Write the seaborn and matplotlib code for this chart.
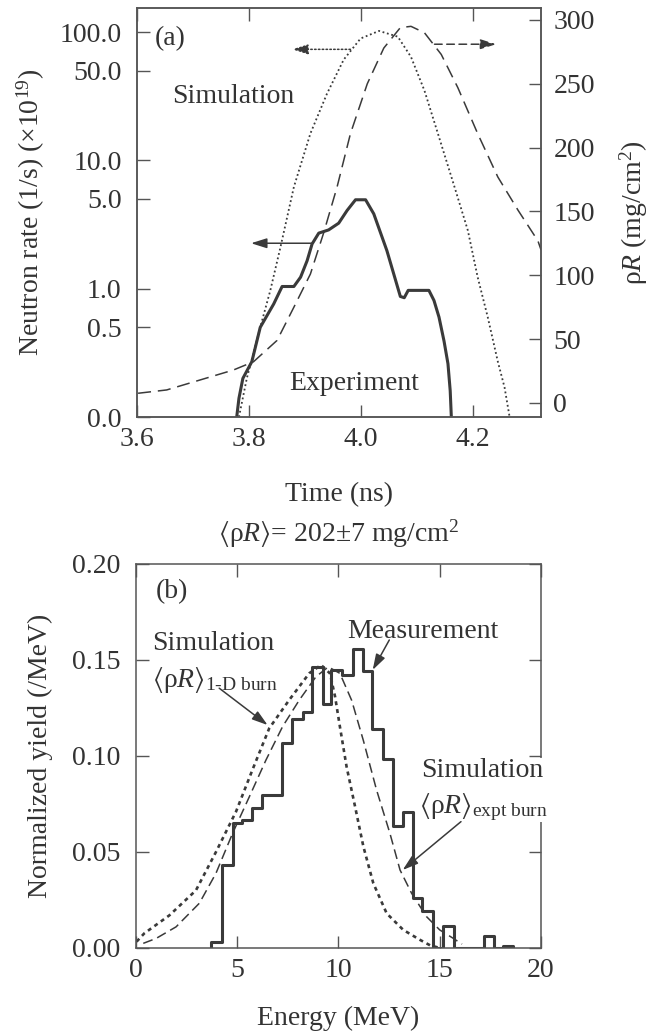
import matplotlib
matplotlib.use('Agg')
import matplotlib.pyplot as plt
import seaborn as sns
from matplotlib.ticker import NullLocator
from matplotlib.patches import Rectangle

# ---- panel (a): neutron rate and rhoR vs time ----
time_expt = [3.778, 3.782, 3.789, 3.805, 3.820, 3.844, 3.859, 3.880, 3.892, 3.9036,
             3.9125, 3.9244, 3.942, 3.960, 3.975, 3.990, 4.008, 4.0226, 4.046, 4.070,
             4.077, 4.084, 4.121, 4.130, 4.139, 4.148, 4.155, 4.159, 4.161]
rate_expt = [0.1, 0.14, 0.20, 0.27, 0.50, 0.76, 1.04, 1.04, 1.23, 1.65,
             2.23, 2.71, 2.87, 3.24, 4.07, 4.93, 4.93, 3.83, 1.98, 0.87,
             0.85, 0.97, 0.97, 0.81, 0.60, 0.39, 0.26, 0.16, 0.1]

time_sim = [3.782, 3.796, 3.820, 3.838, 3.856, 3.880, 3.9095, 3.939, 3.969, 3.999,
            4.032, 4.0655, 4.089, 4.113, 4.137, 4.1667, 4.1905, 4.208, 4.226, 4.244,
            4.256, 4.265]
rate_sim = [0.1, 0.20, 0.50, 0.97, 2.1, 6.2, 16.2, 33, 61, 89,
            102, 92, 64, 35, 16.2, 6.2, 2.84, 1.23, 0.60, 0.27,
            0.17, 0.10]

time_rhor = [3.602, 3.653, 3.7125, 3.772, 3.808, 3.850, 3.880, 3.9095, 3.933, 3.957,
             3.981, 4.011, 4.0405, 4.070, 4.089, 4.113, 4.143, 4.1726, 4.208, 4.244,
             4.280, 4.3155, 4.321]
rhor = [7.6, 10.2, 18, 25.8, 32.3, 49, 75, 101, 133, 169,
        211, 250, 278, 294, 295, 290, 273, 247, 211, 177,
        151, 127, 120]

rate_ticks = [0.1, 0.5, 1, 5, 10, 50, 100]
rate_labels = ['0.0', '0.5', '1.0', '5.0', '10.0', '50.0', '100.0']
time_ticks = [3.6, 3.8, 4.0, 4.2]
rhor_ticks = [0, 50, 100, 150, 200, 250, 300]

# ---- panel (b): yield spectra ----
meas_edges = [3.70, 4.25, 4.77, 5.23, 5.73, 6.21, 7.19, 7.70, 8.23, 8.69, 9.22, 9.63,
              10.16, 10.70, 11.19, 11.67, 12.18, 12.70, 13.20, 13.66, 14.10, 14.66,
              15.18, 15.70, 17.18, 17.68, 18.12, 18.60]
meas_yield = [0.0033, 0.0432, 0.0653, 0.0667, 0.0731, 0.0797, 0.1066, 0.1191, 0.1231,
              0.1465, 0.127, 0.1448, 0.1422, 0.1556, 0.1444, 0.1139, 0.0983, 0.0636,
              0.071, 0.0259, 0.019, 0.0, 0.0115, 0.0, 0.0063, 0.0, 0.001]

e_1d = [0.03, 0.41, 1.65, 2.96, 3.95, 4.94, 5.76, 6.58, 7.57, 8.56, 9.14, 9.58,
        9.83, 10.07, 10.4, 10.82, 11.23, 11.72, 12.38, 13.2, 14.03, 14.52, 15.0]
y_1d = [0.0033, 0.0076, 0.0170, 0.0300, 0.0500, 0.0710, 0.093, 0.1144, 0.1292, 0.1431,
        0.1474, 0.143, 0.131, 0.1153, 0.0944, 0.0736, 0.0528, 0.0337, 0.018, 0.0094,
        0.0042, 0.0014, 0.0]

e_ex = [0.36, 1.0, 1.98, 3.13, 3.95, 4.77, 5.6, 6.42, 7.24, 8.07, 8.89, 9.5,
        10.07, 10.65, 11.23, 11.88, 12.54, 13.04, 13.61, 14.35, 15.0, 15.67, 16.1]
y_ex = [0.0024, 0.005, 0.011, 0.0233, 0.0389, 0.0597, 0.0788, 0.0979, 0.1153, 0.1292,
        0.1413, 0.1464, 0.143, 0.129, 0.108, 0.0823, 0.0597, 0.0406, 0.0285, 0.0163,
        0.0094, 0.005, 0.002]

energy_ticks = [0, 5, 10, 15, 20]
yield_ticks = [0.0, 0.05, 0.10, 0.15, 0.20]

sns.set_style('ticks')
ink = '#3a3a3a'
txt = '#333333'
plt.rcParams.update({
    'font.family': ['Liberation Serif', 'DejaVu Serif'],
    'font.size': 20,
    'mathtext.fontset': 'custom',
    'mathtext.rm': 'Liberation Serif',
    'mathtext.it': 'Liberation Serif:italic',
    'mathtext.bf': 'Liberation Serif:bold',
    'mathtext.fallback': 'stix',
    'text.color': txt,
    'axes.labelcolor': txt,
    'xtick.color': '#555555',
    'ytick.color': '#555555',
    'xtick.labelcolor': txt,
    'ytick.labelcolor': txt,
    'axes.edgecolor': '#555555',
    'axes.linewidth': 1.1,
})

fig = plt.figure(figsize=(6.62, 10.34), dpi=100)


def arrow(ax, head, tail, ls='-'):
    ax.annotate('', xy=head, xytext=tail,
                arrowprops=dict(arrowstyle='-|>,head_length=0.95,head_width=0.3',
                                color=ink, lw=1.1, linestyle=ls,
                                shrinkA=0, shrinkB=0, mutation_scale=10))


# top panel
ax1 = fig.add_axes([0.2069, 0.5967, 0.6103, 0.3956])
ax1b = ax1.twinx()

sns.lineplot(x=time_expt, y=rate_expt, ax=ax1, color=ink, lw=2.2,
             estimator=None, sort=False)
sns.lineplot(x=time_sim, y=rate_sim, ax=ax1, color=ink, lw=1.3,
             linestyle=(0, (1, 1.5)), estimator=None, sort=False)
sns.lineplot(x=time_rhor, y=rhor, ax=ax1b, color=ink, lw=1.1,
             linestyle=(0, (8.5, 4.5)), estimator=None, sort=False)

ax1.set_yscale('log')
ax1.set_xlim(3.6, 4.321)
ax1.set_ylim(0.1, 154)
ax1b.set_ylim(-11, 309.4)
ax1.set_yticks(rate_ticks, labels=rate_labels)
ax1.yaxis.set_minor_locator(NullLocator())
ax1.set_xticks(time_ticks, labels=['3.6', '3.8', '4.0', '4.2'])
ax1b.set_yticks(rhor_ticks)

ax1.tick_params(direction='in', length=9, width=1, top=True, right=False, labelsize=20)
ax1.tick_params(axis='x', pad=7)
ax1.tick_params(axis='y', pad=11)
ax1b.tick_params(direction='in', length=9, width=1, labelsize=20, pad=9)

ax1.set_xlabel('Time (ns)')
ax1.xaxis.set_label_coords(0.5, -0.158)
ax1.set_ylabel('Neutron rate (1/s) (×10$^{19}$)')
ax1.yaxis.set_label_coords(-0.222, 0.5)
ax1b.set_ylabel(r'$\mathrm{\rho}R$ (mg/cm$^2$)')
ax1b.yaxis.set_label_coords(1.19, 0.5)

ax1.text(0.045, 0.9095, '(a)', transform=ax1.transAxes, va='baseline')
ax1.text(0.087, 0.768, 'Simulation', transform=ax1.transAxes, va='baseline')
ax1.text(0.376, 0.066, 'Experiment', transform=ax1.transAxes, va='baseline')

arrow(ax1, (3.877, 73.3), (3.981, 73.3), ls=(0, (1, 1.5)))
arrow(ax1b, (4.241, 281), (4.131, 281), ls=(0, (5, 3)))
arrow(ax1, (3.8036, 2.26), (3.9125, 2.26))

# bottom panel
ax2 = fig.add_axes([0.2054, 0.0832, 0.6118, 0.3714])
sns.lineplot(x=[meas_edges[0]] + meas_edges, y=[0.0] + meas_yield + [0.0], ax=ax2,
             color=ink, lw=2.2, drawstyle='steps-post', estimator=None, sort=False)
sns.lineplot(x=e_1d, y=y_1d, ax=ax2, color=ink, lw=1.9,
             linestyle=(0, (1.5, 1.5)), estimator=None, sort=False)
sns.lineplot(x=e_ex, y=y_ex, ax=ax2, color=ink, lw=1.1,
             linestyle=(0, (6.5, 3.3)), estimator=None, sort=False)

ax2.set_xlim(0, 20)
ax2.set_ylim(0, 0.2)
ax2.set_xticks(energy_ticks, labels=[str(v) for v in energy_ticks])
ax2.set_yticks(yield_ticks, labels=['%.2f' % v for v in yield_ticks])
ax2.tick_params(direction='in', length=9, width=1, top=True, right=True, labelsize=20)
ax2.tick_params(axis='x', pad=7)
ax2.tick_params(axis='y', pad=11)

ax2.set_xlabel('Energy (MeV)')
ax2.xaxis.set_label_coords(0.5, -0.152)
ax2.set_ylabel('Normalized yield (/MeV)')
ax2.yaxis.set_label_coords(-0.204, 0.5)
ax2.set_title(r'$\langle\mathrm{\rho}R\rangle$= 202±7 mg/cm$^2$', pad=16, fontsize=20)

ax2.text(0.049, 0.911, '(b)', transform=ax2.transAxes, va='baseline')
ax2.text(0.0395, 0.776, 'Simulation', transform=ax2.transAxes, va='baseline')
ax2.text(0.0395, 0.680, r'$\langle\mathrm{\rho}R\rangle_{\text{1-D burn}}$',
         transform=ax2.transAxes, va='baseline')
ax2.text(0.521, 0.807, 'Measurement', transform=ax2.transAxes, va='baseline')
ax2.text(0.703, 0.446, 'Simulation', transform=ax2.transAxes, va='baseline')
ax2.text(0.699, 0.352, r'$\langle\mathrm{\rho}R\rangle_{\text{expt burn}}$',
         transform=ax2.transAxes, va='baseline')
# gap in the right spine behind the label
ax2.add_patch(Rectangle((0.985, 0.328), 0.03, 0.167, transform=ax2.transAxes,
                        facecolor='white', edgecolor='none', clip_on=False, zorder=2.6))

arrow(ax2, (6.5, 0.1161), (4.11, 0.1353))
arrow(ax2, (11.69, 0.1448), (12.51, 0.1604))
arrow(ax2, (13.17, 0.0406), (16.05, 0.0658))

fig.savefig('out.png', dpi=100)
